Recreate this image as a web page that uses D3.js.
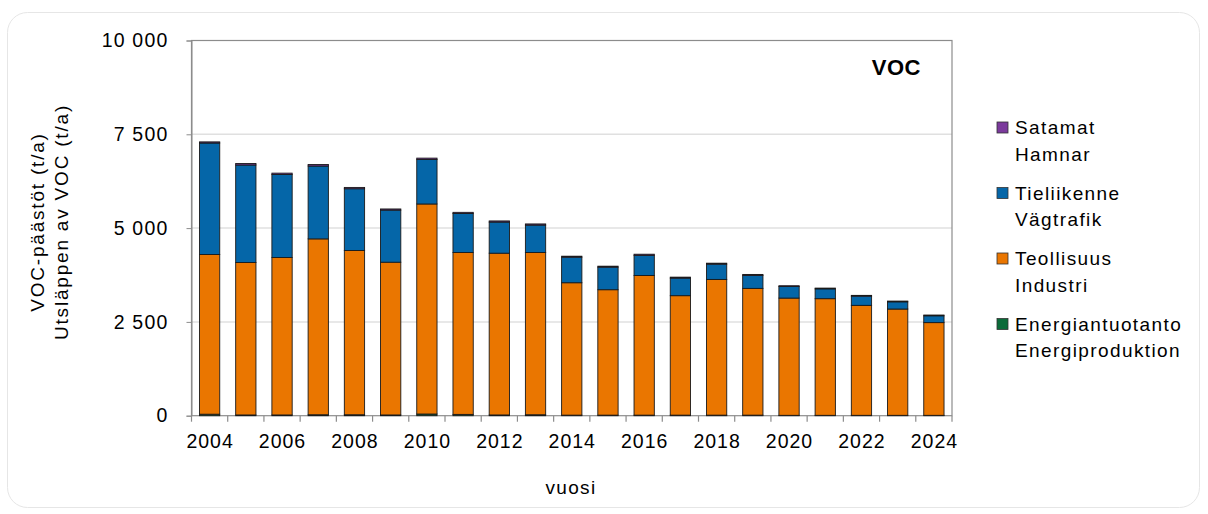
<!DOCTYPE html>
<html>
<head>
<meta charset="utf-8">
<script src="https://cdn.jsdelivr.net/npm/d3@7"></script>
<style>
  html, body { margin: 0; padding: 0; background: #ffffff; }
  svg { display: block; font-family: "Liberation Sans", Arial, sans-serif; }
</style>
</head>
<body>
<svg id="chart" width="1208" height="514"></svg>
<script>
const years = [2004,2005,2006,2007,2008,2009,2010,2011,2012,2013,2014,2015,2016,2017,2018,2019,2020,2021,2022,2023,2024];
const energiantuotanto = [40,20,20,25,25,20,45,35,20,25,15,15,15,15,15,15,10,10,10,10,10];
const teollisuus = [4256,4063,4197,4688,4377,4071,5598,4314,4311,4324,3529,3343,3723,3184,3617,3378,3125,3109,2931,2833,2471];
const tieliikenne = [2972,2599,2213,1942,1647,1389,1187,1041,830,732,682,602,536,469,408,347,309,262,246,192,182];
const satamat = [30,40,35,40,35,30,35,30,30,30,25,25,30,25,25,25,20,20,20,20,20];
const yTicks = [0,2500,5000,7500,10000];
const xTickLabels = [2004,2006,2008,2010,2012,2014,2016,2018,2020,2022,2024];

const seriesKeys = ["energy","industry","road","ports"];
const seriesColors = {energy:"#0b6b3a", industry:"#ea7600", road:"#0566a8", ports:"#7b3a9c"};
const legendItems = [
  {key:"ports", l1:"Satamat", l2:"Hamnar"},
  {key:"road", l1:"Tieliikenne", l2:"Vägtrafik"},
  {key:"industry", l1:"Teollisuus", l2:"Industri"},
  {key:"energy", l1:"Energiantuotanto", l2:"Energiproduktion"}
];

(function(){
const table = years.map((yr,i)=>({year:yr, energy:energiantuotanto[i], industry:teollisuus[i], road:tieliikenne[i], ports:satamat[i]}));
const stacked = d3.stack().keys(seriesKeys)(table);

const svg = d3.select("#chart");
const pLeft = 191.5, pRight = 952, pTop = 40.5, pBottom = 415.7;

// card
svg.append("rect").attr("x",7.5).attr("y",12.5).attr("width",1192).attr("height",495)
  .attr("rx",20).attr("fill","#fff").attr("stroke","#e6e6e6").attr("stroke-width",1);

const x = d3.scaleBand().domain(years).range([pLeft,pRight]).paddingInner(0.44).paddingOuter(0.22);
const y = d3.scaleLinear().domain([0,10000]).range([pBottom,pTop]);

// gridlines
svg.append("g").selectAll("line").data(yTicks.filter(t=>t>0 && t<10000)).join("line")
  .attr("x1",pLeft).attr("x2",pRight).attr("y1",d=>y(d)).attr("y2",d=>y(d))
  .attr("stroke","#e0e0e0").attr("stroke-width",1.5);

// plot border
svg.append("rect").attr("x",pLeft).attr("y",pTop).attr("width",pRight-pLeft).attr("height",pBottom-pTop)
  .attr("fill","none").attr("stroke","#8c8c8c").attr("stroke-width",1.2);

// bars
svg.append("g").selectAll("g").data(stacked).join("g")
  .attr("fill",d=>seriesColors[d.key])
  .selectAll("rect").data(d=>d).join("rect")
  .attr("x",d=>x(d.data.year))
  .attr("width",x.bandwidth())
  .attr("y",d=>y(d[1]))
  .attr("height",d=>Math.max(0,y(d[0])-y(d[1])))
  .attr("stroke","#1a1a1a").attr("stroke-width",0.9);

// y axis
const fmt = d3.formatLocale({decimal:",", thousands:"\u00a0", grouping:[3], currency:["",""]}).format(",");
const yAxis = d3.axisLeft(y).tickValues(yTicks).tickSize(5).tickPadding(18).tickFormat(fmt);
const gy = svg.append("g").attr("transform",`translate(${pLeft},0)`).call(yAxis);
gy.select(".domain").attr("stroke","#8c8c8c");
gy.selectAll(".tick line").attr("stroke","#8c8c8c");
gy.selectAll(".tick text").attr("fill","#000").attr("font-size",19.5).attr("letter-spacing",1.2)
  .attr("font-family","Liberation Sans, Arial, sans-serif");

// x axis: ticks between categories
const xBoundary = d3.scaleLinear().domain([0,years.length]).range([pLeft,pRight]);
svg.append("g").selectAll("line").data(d3.range(0,years.length+1)).join("line")
  .attr("x1",d=>xBoundary(d)).attr("x2",d=>xBoundary(d))
  .attr("y1",pBottom).attr("y2",pBottom+6)
  .attr("stroke","#8c8c8c").attr("stroke-width",1.2);
svg.append("g").selectAll("text").data(xTickLabels).join("text")
  .attr("x",d=>x(d)+x.bandwidth()/2+0.5).attr("y",448)
  .attr("text-anchor","middle").attr("font-size",19.5).attr("letter-spacing",1).attr("fill","#000")
  .text(d=>d);

// axis titles
svg.append("text").attr("x",571).attr("y",494).attr("text-anchor","middle")
  .attr("font-size",19).attr("letter-spacing",1.3).text("vuosi");
const yt = svg.append("text").attr("transform","translate(0,222) rotate(-90)")
  .attr("text-anchor","middle").attr("font-size",19).attr("letter-spacing",1.8);
yt.append("tspan").attr("x",0).attr("y",44).text("VOC-päästöt (t/a)");
yt.append("tspan").attr("x",0).attr("y",68).text("Utsläppen av VOC (t/a)");

// chart label
svg.append("text").attr("x",921).attr("y",75).attr("text-anchor","end")
  .attr("font-size",22).attr("letter-spacing",0.5).attr("font-weight","bold").text("VOC");

// legend
const lg = svg.append("g").selectAll("g").data(legendItems).join("g")
  .attr("transform",(d,i)=>`translate(997,${134 + i*65.5})`);
lg.append("rect").attr("x",0).attr("y",-12).attr("width",11).attr("height",11)
  .attr("fill",d=>seriesColors[d.key]).attr("stroke","#333").attr("stroke-width",0.8);
lg.append("text").attr("x",18).attr("y",0).attr("font-size",19).attr("letter-spacing",1.4).text(d=>d.l1);
lg.append("text").attr("x",18).attr("y",26.5).attr("font-size",19).attr("letter-spacing",1.4).text(d=>d.l2);
})();
</script>
</body>
</html>
